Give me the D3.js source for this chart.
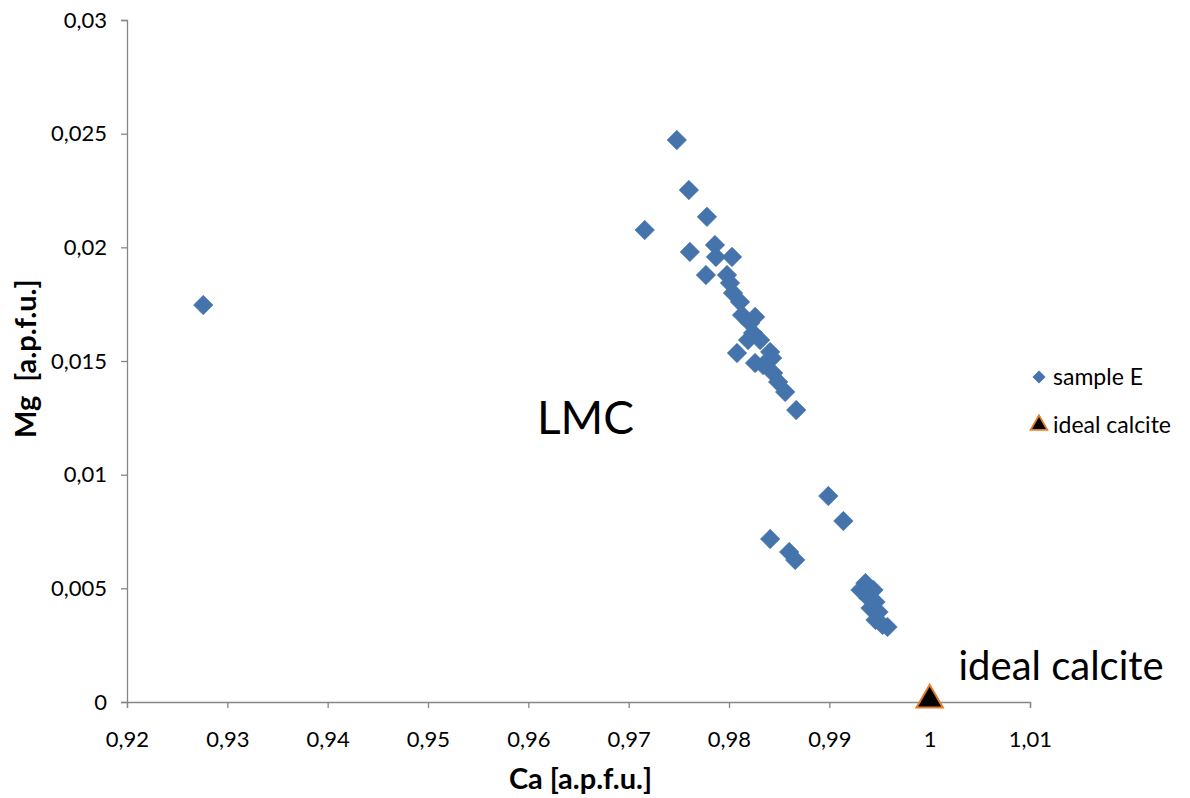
<!DOCTYPE html>
<html>
<head>
<meta charset="utf-8">
<script src="https://cdn.jsdelivr.net/npm/d3@7"></script>
<style>
  body { margin: 0; background: #fff; }
  text { font-family: Lato, "Open Sans", sans-serif; }
</style>
</head>
<body>
<script>
// Ca / Mg values of sample E
var caValues = [0.9276,
  0.9716, 0.9748, 0.9760, 0.9778, 0.9761, 0.9786, 0.9787, 0.9803, 0.9777, 0.9798, 0.9801, 0.9804,
  0.9811, 0.9813, 0.9826, 0.9821, 0.9824, 0.9819, 0.9808, 0.9831, 0.9841, 0.9843, 0.9826, 0.9834,
  0.9844, 0.9849, 0.9856, 0.9867,
  0.9899, 0.9914, 0.9841, 0.9860, 0.9866,
  0.9936, 0.9931, 0.9944, 0.9939, 0.9946, 0.9941, 0.9949, 0.9946, 0.9958, 0.9953];
var mgValues = [0.01746,
  0.02076, 0.02472, 0.02252, 0.02134, 0.01980, 0.02010, 0.01958, 0.01958, 0.01878, 0.01878, 0.01843, 0.01799,
  0.01760, 0.01702, 0.01694, 0.01667, 0.01623, 0.01592, 0.01535, 0.01592, 0.01540, 0.01513, 0.01491, 0.01482,
  0.01447, 0.01408, 0.01364, 0.01284,
  0.00906, 0.00796, 0.00717, 0.00660, 0.00625,
  0.00523, 0.00493, 0.00493, 0.00457, 0.00440, 0.00413, 0.00396, 0.00361, 0.00330, 0.00339];

// ideal calcite point
var idealCa = [1];
var idealMg = [0];

var xTicks = [0.92, 0.93, 0.94, 0.95, 0.96, 0.97, 0.98, 0.99, 1, 1.01];
var yTicks = [0, 0.005, 0.01, 0.015, 0.02, 0.025, 0.03];

var svgWidth = 1190;
var svgHeight = 798;

var chartMargin = { top: 20, right: 160, bottom: 96, left: 127 };
var chartWidth = svgWidth - chartMargin.left - chartMargin.right;
var chartHeight = svgHeight - chartMargin.top - chartMargin.bottom;

var svg = d3.select("body")
  .append("svg")
  .attr("width", svgWidth)
  .attr("height", svgHeight);

var chartGroup = svg.append("g")
  .attr("transform", `translate(${chartMargin.left}, ${chartMargin.top})`);

var xScale = d3.scaleLinear().domain([0.92, 1.01]).range([0, chartWidth]);
var yScale = d3.scaleLinear().domain([0, 0.03]).range([chartHeight, 0]);

// comma decimal separator like the original
var commaFmt = function(v) { return d3.format("~g")(v).replace(".", ","); };

var bottomAxis = d3.axisBottom(xScale).tickValues(xTicks).tickFormat(commaFmt)
  .tickSizeInner(6).tickSizeOuter(6).tickPadding(23);
var leftAxis = d3.axisLeft(yScale).tickValues(yTicks).tickFormat(commaFmt)
  .tickSizeInner(6).tickSizeOuter(6).tickPadding(14);

var xg = chartGroup.append("g")
  .attr("transform", `translate(0, ${chartHeight})`)
  .call(bottomAxis);
var yg = chartGroup.append("g").call(leftAxis);

[xg, yg].forEach(function(g) {
  g.selectAll("path, line").attr("stroke", "#868686").attr("stroke-width", 1.3);
  g.selectAll("text").attr("fill", "#000").style("font-size", "22px");
});

// sample E diamonds
var pts = caValues.map(function(c, i) { return { ca: c, mg: mgValues[i] }; });
var diamond = d3.symbol().type(d3.symbolSquare).size(190);

chartGroup.selectAll(".pt")
  .data(pts)
  .enter()
  .append("path")
  .attr("class", "pt")
  .attr("d", diamond)
  .attr("transform", d => `translate(${xScale(d.ca)}, ${yScale(d.mg)}) rotate(45)`)
  .attr("fill", "#4573AB")
  .attr("stroke", "#4573AB")
  .attr("stroke-width", 0.6);

// ideal calcite triangle
var tri = d3.symbol().type(d3.symbolTriangle).size(300);
chartGroup.selectAll(".ideal")
  .data(idealCa.map(function(c, i) { return { ca: c, mg: idealMg[i] }; }))
  .enter()
  .append("path")
  .attr("class", "ideal")
  .attr("d", tri)
  .attr("transform", d => `translate(${xScale(d.ca)}, ${yScale(d.mg) - 2})`)
  .attr("fill", "#000")
  .attr("stroke", "#E47B28")
  .attr("stroke-width", 2);

// annotations
chartGroup.append("text")
  .attr("x", xScale(0.9657))
  .attr("y", yScale(0.0118))
  .attr("text-anchor", "middle")
  .style("font-size", "46px")
  .text("LMC");

chartGroup.append("text")
  .attr("x", xScale(1.0131))
  .attr("y", yScale(0.00098))
  .attr("text-anchor", "middle")
  .style("font-size", "40px")
  .text("ideal calcite");

// axis titles
svg.append("text")
  .attr("x", chartMargin.left + xScale(0.9652))
  .attr("y", 789)
  .attr("text-anchor", "middle")
  .style("font-size", "29px")
  .style("font-weight", "bold")
  .text("Ca [a.p.f.u.]");

svg.append("text")
  .attr("transform", `translate(36, ${chartMargin.top + yScale(0.0151)}) rotate(-90)`)
  .attr("text-anchor", "middle")
  .style("font-size", "29px")
  .style("font-weight", "bold")
  .style("white-space", "pre")
  .text("Mg  [a.p.f.u.]");

// legend
var legend = svg.append("g").attr("transform", "translate(1039, 377)");
legend.append("path")
  .attr("d", d3.symbol().type(d3.symbolSquare).size(85))
  .attr("transform", "rotate(45)")
  .attr("fill", "#4573AB");
legend.append("text").attr("x", 14).attr("y", 8).style("font-size", "23px").text("sample E");
legend.append("path")
  .attr("d", d3.symbol().type(d3.symbolTriangle).size(120))
  .attr("transform", "translate(0, 48)")
  .attr("fill", "#000")
  .attr("stroke", "#E47B28")
  .attr("stroke-width", 1.8);
legend.append("text").attr("x", 14).attr("y", 56).style("font-size", "23px").text("ideal calcite");
</script>
</body>
</html>
